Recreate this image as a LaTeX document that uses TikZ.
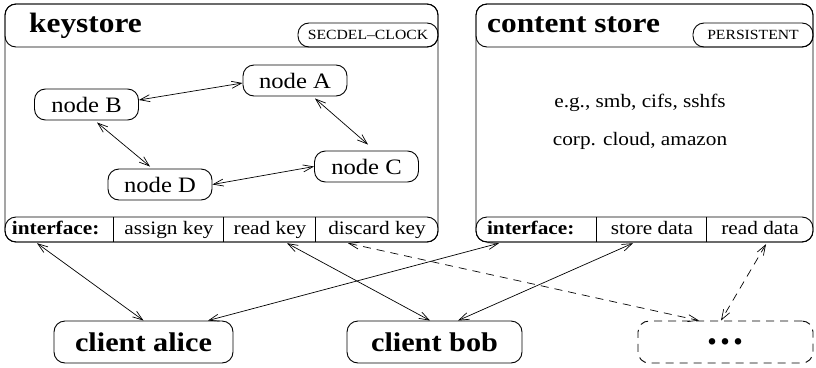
\documentclass[tikz,border=0pt]{standalone}
\usepackage{fontspec}
\usepackage{graphicx}
\setmainfont{Liberation Serif}
\newcommand\wide[1]{\scalebox{1.12}[1]{#1}}
\usetikzlibrary{arrows.meta}
\begin{document}
\begin{tikzpicture}[x=1pt,y=-1pt]
\tikzset{
 box/.style={draw, line width=0.9pt, rounded corners=11pt},
 pill/.style={draw, line width=0.9pt, rounded corners=11pt, inner sep=0pt, minimum height=24pt, font=\fontsize{14}{16}\selectfont},
 gnode/.style={draw, line width=0.9pt, rounded corners=11pt, inner sep=0pt, minimum width=104pt, minimum height=31pt, font=\fontsize{22}{24}\selectfont},
 cell/.style={inner sep=0pt, minimum height=25pt, text height=13pt, text depth=4pt, font=\fontsize{19}{21}\selectfont},
 client/.style={draw, line width=0.9pt, rounded corners=11pt, inner sep=0pt, minimum height=42pt, font=\bfseries\fontsize{27}{29}\selectfont},
 title/.style={anchor=base west, inner sep=0pt, font=\bfseries\fontsize{28}{30}\selectfont},
 plain/.style={anchor=base, inner sep=0pt, font=\fontsize{19}{21}\selectfont},
 divider/.style={line width=0.9pt},
 link/.style={line width=0.7pt, {Straight Barb[length=10pt,width=7pt]}-{Straight Barb[length=10pt,width=7pt]}},
 dlink/.style={link, dash pattern=on 8pt off 6pt},
}
\useasboundingbox (0,0) rectangle (816,367);
% keystore frame
\draw[box] (5,4) rectangle (438,242);
\draw[box] (5,4) rectangle (438,47);
\draw[box] (5,217) rectangle (438,242);
\node[title] (ktitle) at (29,32) {\wide{keystore}};
\node[pill, minimum width=140pt] (ksec) at (368,35) {\wide{SECDEL--CLOCK}};
\node[cell, text width=95pt, inner xsep=7pt, align=left, font=\bfseries\fontsize{19}{21}\selectfont] (ki) at (59.5,229.5) {\wide{interface:}};
\node[cell, minimum width=110pt] (kassign) at (169,229.5) {\wide{assign key}};
\node[cell, minimum width=92pt] (kread) at (270,229.5) {\wide{read key}};
\node[cell, minimum width=122pt] (kdiscard) at (377,229.5) {\wide{discard key}};
\draw[divider] (kassign.north west) -- (kassign.south west);
\draw[divider] (kread.north west) -- (kread.south west);
\draw[divider] (kdiscard.north west) -- (kdiscard.south west);
% graph
\node[gnode] (A) at (295,80.5) {\wide{node A}};
\node[gnode] (B) at (86.5,104.5) {\wide{node B}};
\node[gnode] (C) at (366.5,166.5) {\wide{node C}};
\node[gnode] (D) at (160,184.5) {\wide{node D}};
\draw[link] ([yshift=4.5pt]B.east) -- ([yshift=-2.5pt]A.west);
\draw[link] ([xshift=20pt,yshift=-2pt]A.south) -- ([xshift=1.5pt,yshift=6pt]C.north);
\draw[link] ([xshift=10.5pt,yshift=-2pt]B.south) -- ([xshift=-10pt,yshift=2pt]D.north);
\draw[link] (D.east) -- (C.west);
% content store frame
\draw[box] (476,4) rectangle (813,242);
\draw[box] (476,4) rectangle (813,47);
\draw[box] (476,217) rectangle (813,242);
\node[title] (ctitle) at (487,32) {\wide{content store}};
\node[pill, minimum width=120pt] (cper) at (753,35) {\wide{PERSISTENT}};
\node[plain] (cex1) at (640,107) {\wide{e.g., smb, cifs, sshfs}};
\node[plain] (cex2) at (640,145) {\wide{corp. cloud, amazon}};
\node[cell, text width=99pt, inner xsep=11pt, align=left, font=\bfseries\fontsize{19}{21}\selectfont] (ci) at (536.5,229.5) {\wide{interface:}};
\node[cell, minimum width=110pt] (cstore) at (652,229.5) {\wide{store data}};
\node[cell, minimum width=106pt] (cread) at (760,229.5) {\wide{read data}};
\draw[divider] (cstore.north west) -- (cstore.south west);
\draw[divider] (cread.north west) -- (cread.south west);
% clients
\node[client, minimum width=179pt] (alice) at (143.5,342) {\wide{client alice}};
\node[client, minimum width=175pt] (bob) at (434.5,342) {\wide{client bob}};
\node[client, minimum width=175pt, dash pattern=on 8pt off 6pt, font=\bfseries\fontsize{40}{40}\selectfont] (more) at (725.5,342) {.\hspace{3pt}.\hspace{3pt}.};
% connectors
\draw[link] ([xshift=-22.5pt,yshift=-1pt]ki.south) -- (alice.north);
\draw[link] ([xshift=-37.5pt,yshift=-1pt]ci.south) -- ([xshift=64.5pt]alice.north);
\draw[link] ([xshift=17pt,yshift=-1pt]kread.south) -- ([xshift=-4.5pt]bob.north);
\draw[link] ([xshift=-19pt,yshift=-1pt]cstore.south) -- ([xshift=23.5pt]bob.north);
\draw[dlink] ([xshift=-29pt,yshift=-1pt]kdiscard.south) -- ([xshift=-26.5pt]more.north);
\draw[dlink] ([xshift=6pt,yshift=-2pt]cread.south) -- ([xshift=-4.5pt]more.north);
\end{tikzpicture}
\end{document}
